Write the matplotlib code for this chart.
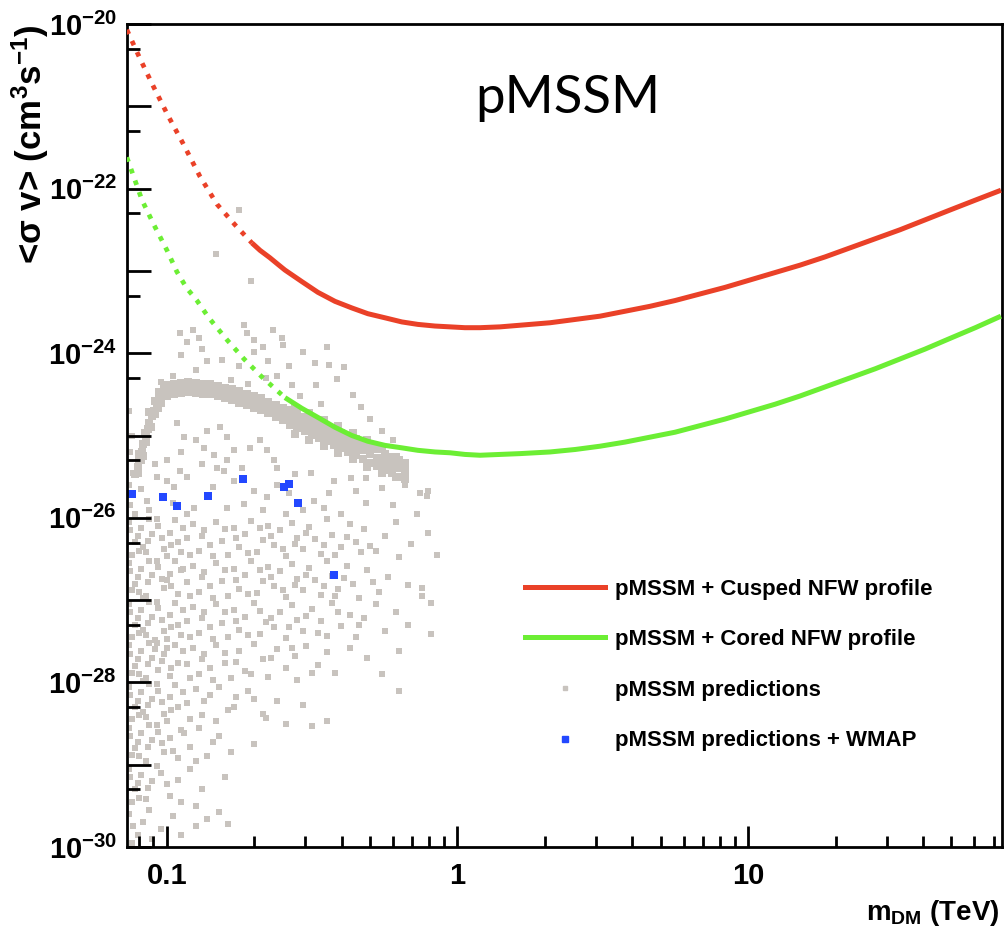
import numpy as np
import matplotlib
matplotlib.use("Agg")
import matplotlib.pyplot as plt
from matplotlib.lines import Line2D
from matplotlib.ticker import LogLocator, FixedLocator, FuncFormatter, NullFormatter

plt.rcParams.update({
    "font.family": "Liberation Sans",
    "font.weight": "bold",
    "mathtext.fontset": "custom",
    "mathtext.rm": "Liberation Sans:bold",
    "mathtext.it": "Liberation Sans:bold",
    "mathtext.bf": "Liberation Sans:bold",
})

RED = "#ea4128"
GREEN = "#6cee34"
GRAY = "#c8c3be"
BLUE = "#2348ff"

# all values as log10(m_DM / TeV), log10(<sigma v> / cm^3 s^-1)
cusped_lx = [-1.137, -1.092, -1.047, -0.996, -0.944, -0.886, -0.827, -0.765, -0.707,
             -0.679, -0.645, -0.614, -0.593, -0.535, -0.480, -0.421, -0.363, -0.308,
             -0.249, -0.191, -0.136, -0.077, -0.025, 0.026, 0.078, 0.147, 0.216,
             0.319, 0.405, 0.491, 0.577, 0.663, 0.749, 0.835, 0.921, 1.007, 1.093,
             1.179, 1.265, 1.351, 1.437, 1.523, 1.609, 1.695, 1.782, 1.870]
cusped_ly = [-20.07, -20.42, -20.75, -21.11, -21.45, -21.85, -22.19, -22.44, -22.66,
             -22.75, -22.84, -22.93, -22.99, -23.13, -23.26, -23.37, -23.45, -23.52,
             -23.57, -23.62, -23.65, -23.67, -23.68, -23.69, -23.69, -23.68, -23.66,
             -23.63, -23.59, -23.55, -23.49, -23.43, -23.36, -23.28, -23.20, -23.11,
             -23.02, -22.93, -22.83, -22.72, -22.61, -22.50, -22.38, -22.26, -22.14, -22.02]
cusped_solid_from = 8

cored_lx = [-1.137, -1.085, -1.044, -0.999, -0.965, -0.931, -0.896, -0.855, -0.792,
            -0.734, -0.672, -0.593, -0.535, -0.480, -0.421, -0.363, -0.308, -0.249,
            -0.191, -0.136, -0.077, -0.025, 0.026, 0.078, 0.147, 0.216, 0.319, 0.405,
            0.491, 0.577, 0.663, 0.749, 0.835, 0.921, 1.007, 1.093, 1.179, 1.265,
            1.351, 1.437, 1.523, 1.609, 1.695, 1.782, 1.870]
cored_ly = [-21.62, -22.14, -22.44, -22.75, -23.01, -23.21, -23.36, -23.57, -23.84,
            -24.07, -24.29, -24.54, -24.67, -24.78, -24.90, -25.00, -25.07, -25.12,
            -25.15, -25.18, -25.20, -25.21, -25.23, -25.24, -25.23, -25.22, -25.20,
            -25.17, -25.13, -25.08, -25.02, -24.96, -24.88, -24.80, -24.71, -24.62,
            -24.52, -24.41, -24.30, -24.19, -24.07, -23.95, -23.82, -23.69, -23.55]
cored_solid_from = 11

# dense band of pMSSM predictions
band_lx = [-1.000, -0.975, -0.950, -0.925, -0.900, -0.875, -0.850, -0.825, -0.800,
           -0.775, -0.750, -0.725, -0.700, -0.675, -0.650, -0.625, -0.600,
           -0.575, -0.550, -0.525, -0.500, -0.475, -0.450, -0.425, -0.400,
           -0.375, -0.350, -0.325, -0.300, -0.275, -0.250, -0.225, -0.200, -0.180]
band_hi = [-24.39, -24.37, -24.36, -24.35, -24.36, -24.37, -24.38, -24.40, -24.42,
           -24.43, -24.46, -24.49, -24.52, -24.55, -24.59, -24.63, -24.67,
           -24.69, -24.73, -24.77, -24.81, -24.85, -24.89, -24.93, -24.97,
           -25.00, -25.04, -25.08, -25.13, -25.17, -25.22, -25.26, -25.30, -25.33]
band_mid = [-24.45, -24.43, -24.42, -24.41, -24.42, -24.43, -24.44, -24.46, -24.48,
            -24.50, -24.53, -24.56, -24.59, -24.62, -24.66, -24.70, -24.74,
            -24.78, -24.82, -24.86, -24.90, -24.94, -24.98, -25.02, -25.06,
            -25.10, -25.14, -25.18, -25.23, -25.27, -25.32, -25.36, -25.40, -25.43]
band_lo = [-24.51, -24.49, -24.48, -24.47, -24.48, -24.49, -24.50, -24.52, -24.54,
           -24.57, -24.60, -24.63, -24.66, -24.69, -24.73, -24.77, -24.81,
           -24.87, -24.91, -24.95, -24.99, -25.03, -25.07, -25.11, -25.15,
           -25.20, -25.24, -25.28, -25.33, -25.37, -25.42, -25.46, -25.50, -25.53]
band_edge_lx = [-0.56, -0.51, -0.46, -0.41, -0.36, -0.31, -0.26, -0.21]
band_edge_hi = [-24.66, -24.73, -24.81, -24.89, -24.97, -25.06, -25.16, -25.26]
band_edge_lo = [-24.98, -25.05, -25.13, -25.21, -25.29, -25.38, -25.45, -25.51]
band_rise = [(-1.11, -25.47), (-1.10, -25.38), (-1.09, -25.30), (-1.085, -25.20), (-1.08, -25.10),
             (-1.07, -25.00), (-1.065, -24.92), (-1.06, -24.85), (-1.05, -24.76), (-1.045, -24.70),
             (-1.035, -24.62), (-1.025, -24.55), (-1.015, -24.50), (-1.10, -25.45), (-1.08, -25.25),
             (-1.07, -25.08), (-1.055, -24.90), (-1.04, -24.74), (-1.03, -24.66), (-1.02, -24.60),
             (-1.00, -24.52), (-1.095, -25.22), (-1.075, -24.97), (-1.06, -24.72), (-1.04, -24.58),
             (-1.025, -24.47), (-1.01, -24.42)]

# scattered predictions above the band
gray_above = [(-0.75, -22.26), (-0.83, -22.80), (-0.71, -23.12),
              (-0.955, -23.76), (-0.91, -23.72), (-0.89, -23.81), (-0.735, -23.66), (-0.725, -23.76),
              (-0.667, -23.93), (-0.633, -23.72), (-0.605, -23.82), (-0.93, -23.86), (-0.70, -23.84),
              (-0.95, -24.02), (-0.86, -24.10), (-0.81, -24.08), (-0.75, -24.15), (-0.70, -23.98),
              (-0.65, -24.10), (-0.62, -24.28), (-0.58, -24.16), (-0.53, -23.98), (-0.49, -24.12),
              (-0.44, -24.14), (-0.39, -24.17), (-0.415, -24.31), (-0.485, -24.39), (-0.36, -24.51),
              (-0.57, -24.39), (-0.66, -24.30), (-0.90, -24.20), (-0.98, -24.28), (-1.02, -24.35),
              (-0.78, -24.32), (-0.72, -24.38), (-0.54, -24.52), (-0.47, -24.62), (-0.33, -24.65),
              (-0.30, -24.80), (-0.26, -24.95), (-0.22, -25.05), (-0.60, -23.90), (-0.88, -23.95),
              (-0.45, -23.92)]

# scattered predictions just below the band
gray_below = [(-0.964, -24.85), (-0.94, -25.02), (-0.862, -24.94), (-0.817, -24.90), (-0.793, -25.02),
              (-0.872, -25.15), (-0.838, -25.24), (-0.769, -25.18), (-0.793, -25.30), (-0.715, -25.15),
              (-0.68, -25.06), (-0.656, -25.18), (-0.632, -25.30), (-0.954, -25.43), (-0.93, -25.51),
              (-0.827, -25.39), (-0.803, -25.43), (-0.70, -25.67), (-0.656, -25.75), (-0.622, -25.39),
              (-0.974, -25.63), (-1.067, -25.79), (-0.93, -25.95), (-0.793, -25.88), (-0.735, -25.83),
              (-0.667, -25.91), (-0.906, -25.88), (-1.033, -25.51), (-0.998, -25.30), (-1.10, -25.30),
              (-0.503, -25.45), (-0.424, -25.55), (-0.366, -25.52), (-0.315, -25.52), (-0.26, -25.64),
              (-0.127, -25.70), (-0.106, -25.73), (-0.315, -25.82), (-0.40, -25.95), (-0.492, -25.79),
              (-0.56, -25.47), (-0.10, -25.67), (-1.13, -24.70), (-1.12, -25.00), (-1.13, -25.60),
              (-1.125, -25.85), (-1.11, -25.95), (-0.58, -25.70), (-0.46, -25.88), (-0.84, -25.62),
              (-1.125, -25.20), (-1.115, -25.45), (-1.09, -25.65), (-1.06, -25.90), (-1.04, -25.35),
              (-1.00, -25.55), (-0.98, -25.82), (-0.95, -25.20), (-0.90, -25.05), (-0.88, -25.35),
              (-0.86, -25.75), (-0.77, -25.55), (-0.74, -25.40), (-0.62, -25.60), (-0.59, -25.95),
              (-0.53, -25.90), (-0.44, -25.70), (-0.35, -25.68), (-0.22, -25.85), (-0.18, -25.60),
              (-0.14, -25.95)]

# the wide cloud of predictions below 1e-26
gray_cloud = [
    # 1e-26 .. 3e-27
    (-1.13, -26.05), (-1.11, -26.30), (-1.09, -26.12), (-1.07, -26.42), (-1.05, -26.20), (-1.12, -26.45),
    (-1.06, -26.02), (-1.10, -26.22), (-1.08, -26.35), (-1.03, -26.10), (-1.01, -26.38), (-0.99, -26.18),
    (-0.97, -26.03), (-0.96, -26.30), (-1.00, -26.47), (-0.95, -26.42), (-0.93, -26.25), (-0.91, -26.08),
    (-0.89, -26.40), (-0.87, -26.15), (-0.85, -26.33), (-0.83, -26.05), (-0.81, -26.28), (-0.79, -26.45),
    (-0.77, -26.12), (-0.75, -26.36), (-0.73, -26.20), (-0.71, -26.04), (-0.69, -26.41), (-0.67, -26.27),
    (-0.65, -26.10), (-0.63, -26.33), (-0.61, -26.15), (-0.59, -26.46), (-0.57, -26.06), (-0.55, -26.24),
    (-0.53, -26.38), (-0.51, -26.11), (-0.49, -26.26), (-0.47, -26.44), (-0.45, -26.02), (-0.43, -26.21),
    (-0.40, -26.36), (-0.37, -26.08), (-0.35, -26.30), (-0.32, -26.14), (-0.30, -26.34), (-0.28, -26.40),
    (-0.25, -26.22), (-0.21, -26.05), (-0.16, -26.32), (-0.10, -26.18), (-0.07, -26.45), (-0.20, -26.48),
    (-1.125, -26.15), (-1.095, -26.40), (-1.065, -26.28), (-1.035, -26.02), (-1.015, -26.24), (-0.985, -26.33),
    (-0.945, -26.12), (-0.92, -26.45), (-0.88, -26.22), (-0.84, -26.47), (-0.80, -26.14), (-0.76, -26.25),
    (-0.72, -26.43), (-0.68, -26.13), (-0.64, -26.22), (-0.60, -26.38), (-0.56, -26.32), (-0.52, -26.19),
    (-0.46, -26.33), (-0.42, -26.45), (-0.38, -26.23), (-0.33, -26.42),
    # 3e-27 .. 1e-27
    (-1.13, -26.55), (-1.11, -26.80), (-1.09, -26.62), (-1.07, -26.95), (-1.05, -26.70), (-1.12, -26.88),
    (-1.06, -26.52), (-1.10, -26.72), (-1.08, -26.98), (-1.03, -26.60), (-1.01, -26.85), (-0.99, -26.68),
    (-0.97, -26.53), (-0.96, -26.92), (-1.00, -26.75), (-0.95, -26.64), (-0.93, -26.78), (-0.91, -26.58),
    (-0.89, -26.90), (-0.87, -26.66), (-0.85, -26.83), (-0.83, -26.55), (-0.81, -26.77), (-0.79, -26.95),
    (-0.77, -26.62), (-0.75, -26.86), (-0.73, -26.70), (-0.71, -26.53), (-0.69, -26.91), (-0.67, -26.77),
    (-0.65, -26.60), (-0.63, -26.83), (-0.61, -26.65), (-0.59, -26.96), (-0.57, -26.56), (-0.55, -26.74),
    (-0.53, -26.88), (-0.51, -26.61), (-0.49, -26.76), (-0.47, -26.94), (-0.45, -26.52), (-0.43, -26.71),
    (-0.41, -26.86), (-0.38, -26.58), (-0.36, -26.80), (-0.34, -26.97), (-0.31, -26.64), (-0.27, -26.90),
    (-0.24, -26.72), (-0.17, -26.82), (-0.12, -26.85),
    (-1.125, -26.65), (-1.095, -26.90), (-1.065, -26.78), (-1.035, -26.52), (-1.015, -26.74), (-0.985, -26.83),
    (-0.945, -26.62), (-0.92, -26.95), (-0.88, -26.72), (-0.84, -26.97), (-0.80, -26.64), (-0.76, -26.75),
    (-0.72, -26.93), (-0.68, -26.63), (-0.64, -26.72), (-0.60, -26.88), (-0.56, -26.82), (-0.52, -26.69),
    (-0.46, -26.83), (-0.42, -26.95), (-0.39, -26.73), (-0.29, -26.78),
    # 1e-27 .. 3e-28
    (-1.13, -27.05), (-1.11, -27.30), (-1.09, -27.12), (-1.07, -27.42), (-1.05, -27.20), (-1.12, -27.45),
    (-1.06, -27.02), (-1.10, -27.22), (-1.08, -27.36), (-1.04, -27.48), (-1.03, -27.10), (-1.01, -27.38),
    (-0.99, -27.18), (-0.97, -27.03), (-0.96, -27.30), (-1.00, -27.47), (-0.95, -27.42), (-0.93, -27.25),
    (-0.91, -27.08), (-0.89, -27.40), (-0.87, -27.15), (-0.85, -27.33), (-0.83, -27.05), (-0.81, -27.28),
    (-0.79, -27.45), (-0.77, -27.12), (-0.75, -27.36), (-0.73, -27.20), (-0.70, -27.04), (-0.68, -27.41),
    (-0.66, -27.27), (-0.63, -27.33), (-0.61, -27.15), (-0.59, -27.46), (-0.57, -27.06), (-0.55, -27.24),
    (-0.53, -27.38), (-0.50, -27.11), (-0.47, -27.26), (-0.45, -27.44), (-0.43, -27.03), (-0.40, -27.31),
    (-0.37, -27.18), (-0.35, -27.45), (-0.32, -27.22), (-0.28, -27.05), (-0.25, -27.38), (-0.21, -27.15),
    (-0.17, -27.30), (-0.09, -27.04), (-0.09, -27.41), (-0.12, -26.95),
    (-1.125, -27.15), (-1.095, -27.40), (-1.065, -27.28), (-1.035, -27.02), (-1.015, -27.24), (-0.985, -27.33),
    (-0.945, -27.12), (-0.92, -27.45), (-0.88, -27.22), (-0.84, -27.47), (-0.80, -27.14), (-0.76, -27.25),
    (-0.72, -27.43), (-0.68, -27.13), (-0.64, -27.22), (-0.58, -27.33), (-0.52, -27.19), (-0.48, -27.40),
    (-0.41, -27.14), (-0.34, -27.30),
    # 3e-28 .. 1e-28
    (-1.13, -27.55), (-1.11, -27.80), (-1.09, -27.62), (-1.07, -27.95), (-1.05, -27.70), (-1.12, -27.88),
    (-1.06, -27.52), (-1.10, -27.72), (-1.08, -27.98), (-1.04, -27.60), (-1.03, -27.85), (-1.01, -27.65),
    (-0.99, -27.92), (-0.97, -27.55), (-0.96, -27.76), (-1.00, -27.58), (-0.93, -27.78), (-0.91, -27.58),
    (-0.89, -27.90), (-0.87, -27.66), (-0.85, -27.83), (-0.83, -27.55), (-0.80, -27.77), (-0.78, -27.95),
    (-0.75, -27.62), (-0.73, -27.86), (-0.70, -27.53), (-0.67, -27.71), (-0.65, -27.94), (-0.62, -27.60),
    (-0.59, -27.82), (-0.56, -27.68), (-0.55, -27.97), (-0.52, -27.56), (-0.48, -27.79), (-0.45, -27.63),
    (-0.42, -27.88), (-0.37, -27.58), (-0.31, -27.70), (-0.26, -27.90), (-0.20, -27.62),
    (-1.125, -27.65), (-1.095, -27.90), (-1.065, -27.78), (-1.035, -27.52), (-1.015, -27.74), (-0.985, -27.83),
    (-0.945, -27.62), (-0.92, -27.95), (-0.88, -27.72), (-0.84, -27.97), (-0.80, -27.64), (-0.76, -27.75),
    (-0.71, -27.90), (-0.64, -27.70), (-0.57, -27.58), (-0.50, -27.88),
    # 1e-28 .. 3e-29
    (-1.13, -28.05), (-1.11, -28.30), (-1.09, -28.12), (-1.07, -28.42), (-1.05, -28.20), (-1.12, -28.45),
    (-1.06, -28.02), (-1.10, -28.22), (-1.08, -28.36), (-1.03, -28.10), (-1.01, -28.38), (-0.99, -28.18),
    (-0.97, -28.03), (-0.96, -28.30), (-1.00, -28.47), (-0.93, -28.25), (-0.90, -28.08), (-0.88, -28.40),
    (-0.85, -28.15), (-0.82, -28.05), (-0.79, -28.33), (-0.76, -28.18), (-0.72, -28.10), (-0.67, -28.38),
    (-0.62, -28.22), (-0.59, -28.50), (-0.53, -28.28), (-0.50, -28.53), (-0.45, -28.47), (-0.20, -28.10),
    (-1.125, -28.15), (-1.095, -28.40), (-1.065, -28.28), (-1.035, -28.02), (-1.015, -28.24), (-0.985, -28.33),
    (-0.945, -28.12), (-0.92, -28.45), (-0.87, -28.22), (-0.83, -28.47), (-0.77, -28.30), (-0.70, -28.20),
    # 3e-29 .. 1e-29
    (-1.13, -28.55), (-1.11, -28.80), (-1.09, -28.62), (-1.07, -28.95), (-1.05, -28.70), (-1.12, -28.88),
    (-1.06, -28.52), (-1.10, -28.72), (-1.03, -28.60), (-1.01, -28.85), (-0.99, -28.68), (-0.96, -28.92),
    (-0.95, -28.58), (-0.92, -28.78), (-0.89, -28.56), (-0.86, -28.90), (-0.82, -28.65), (-0.78, -28.85),
    (-0.70, -28.75), (-0.66, -28.43),
    (-1.125, -28.65), (-1.095, -28.90), (-1.065, -28.78), (-1.035, -28.52), (-1.015, -28.74), (-0.98, -28.83),
    (-0.94, -28.62), (-0.90, -28.95), (-0.84, -28.72),
    # 1e-29 .. 1e-30
    (-1.13, -29.05), (-1.11, -29.30), (-1.09, -29.12), (-1.07, -29.42), (-1.05, -29.20), (-1.12, -29.45),
    (-1.10, -29.22), (-1.02, -29.10), (-0.99, -29.38), (-0.96, -29.18), (-0.92, -29.05), (-0.88, -29.30),
    (-0.80, -29.15), (-1.13, -29.60), (-1.10, -29.85), (-1.08, -29.70), (-1.12, -29.95), (-1.06, -29.55),
    (-1.02, -29.78), (-0.98, -29.62), (-0.90, -29.75), (-0.82, -29.58), (-0.79, -29.72), (-0.86, -29.66),
    (-1.125, -29.15), (-1.095, -29.40), (-1.065, -29.28), (-1.035, -29.02), (-1.00, -29.24), (-0.95, -29.45),
    (-0.90, -29.50), (-1.115, -29.75), (-1.05, -29.90), (-0.95, -29.85),
]

# pMSSM + WMAP points
wmap_m = [0.0762, 0.0973, 0.1087, 0.1387, 0.1828, 0.254, 0.264, 0.284, 0.377]
wmap_sv = [1.95e-26, 1.78e-26, 1.41e-26, 1.82e-26, 3.0e-26, 2.4e-26, 2.6e-26, 1.5e-26, 2.0e-27]

legend_labels = ["pMSSM + Cusped NFW profile", "pMSSM + Cored NFW profile",
                 "pMSSM predictions", "pMSSM predictions + WMAP"]

# ---- assemble gray points
loose = gray_above + gray_below + gray_cloud
loose_m = 10.0 ** np.array([p[0] for p in loose])
loose_sv = 10.0 ** np.array([p[1] for p in loose])

b_lx = [p[0] for p in band_rise]
b_ly = [p[1] for p in band_rise]
for row in (band_hi, band_mid, band_lo):
    b_lx += band_lx
    b_ly += row
for row in (band_edge_hi, band_edge_lo):
    b_lx += band_edge_lx
    b_ly += row
band_m = 10.0 ** np.array(b_lx)
band_sv = 10.0 ** np.array(b_ly)

fig = plt.figure(figsize=(10.06, 9.36), dpi=100)
ax = fig.add_axes([126.7 / 1006, 1 - 847 / 936, (1001.5 - 126.7) / 1006, (847 - 24) / 936])
ax.set_xscale("log")
ax.set_yscale("log")

ax.scatter(loose_m, loose_sv, s=17, marker="s", color=GRAY, linewidths=0, zorder=1)
ax.scatter(band_m, band_sv, s=26, marker="s", color=GRAY, linewidths=0, zorder=1)
ax.scatter(wmap_m, wmap_sv, s=28, marker="s", color=BLUE, linewidths=0, zorder=2)

cm = 10.0 ** np.array(cusped_lx)
cs = 10.0 ** np.array(cusped_ly)
k = cusped_solid_from
ax.plot(cm[:k + 1], cs[:k + 1], color=RED, lw=3.4, ls=(0, (1, 1.6)), zorder=3)
ax.plot(cm[k:], cs[k:], color=RED, lw=3.6, zorder=3, solid_capstyle="butt")

gm = 10.0 ** np.array(cored_lx)
gs = 10.0 ** np.array(cored_ly)
k = cored_solid_from
ax.plot(gm[:k + 1], gs[:k + 1], color=GREEN, lw=3.4, ls=(0, (1, 1.6)), zorder=3)
ax.plot(gm[k:], gs[k:], color=GREEN, lw=3.6, zorder=3, solid_capstyle="butt")

ax.set_xlim(10 ** -1.1376, 10 ** 1.872)
ax.set_ylim(1e-30, 1e-20)

for s in ax.spines.values():
    s.set_linewidth(2.0)

ax.yaxis.set_major_locator(LogLocator(base=10, subs=(1.0,), numticks=20))
ax.yaxis.set_minor_locator(LogLocator(base=10, subs=(5.0,), numticks=20))
ax.yaxis.set_minor_formatter(NullFormatter())


def ylab(v, pos):
    e = int(round(np.log10(v)))
    return r"$10^{%d}$" % e if e % 2 == 0 else ""


ax.yaxis.set_major_formatter(FuncFormatter(ylab))
ax.xaxis.set_major_locator(FixedLocator([0.1, 1, 10]))
ax.xaxis.set_major_formatter(FuncFormatter(lambda v, p: {0.1: "0.1", 1: "1", 10: "10"}.get(round(v, 1), "")))
ax.xaxis.set_minor_locator(LogLocator(base=10, subs=np.arange(2, 10), numticks=20))
ax.xaxis.set_minor_formatter(NullFormatter())

ax.tick_params(axis="y", which="major", direction="in", length=17, width=2, pad=7, labelsize=21)
ax.tick_params(axis="y", which="minor", direction="in", length=9.5, width=2)
ax.tick_params(axis="x", which="major", direction="in", length=15, width=2, pad=11, labelsize=21)
ax.tick_params(axis="x", which="minor", direction="in", length=8, width=2)
ax.tick_params(top=False, right=False, which="both")

fig.text(30 / 1006, 1 - 24 / 936, "<σ v> (cm$^{3}$s$^{-1}$)", rotation=90, ha="center", va="top",
         fontsize=25, fontweight="bold")
fig.text(1000 / 1006, 1 - 920 / 936, r"m$_{DM}$ (TeV)", ha="right", va="baseline", fontsize=20,
         fontweight="bold")
fig.text(568 / 1006, 1 - 113 / 936, "pMSSM", ha="center", va="baseline", fontsize=38,
         fontfamily="Lato", fontweight="normal")

handles = [Line2D([], [], color=RED, lw=3.6),
           Line2D([], [], color=GREEN, lw=3.6),
           Line2D([], [], ls="none", marker="s", ms=3, color=GRAY),
           Line2D([], [], ls="none", marker="s", ms=5, color=BLUE)]
ax.legend(handles, legend_labels, loc="upper left", bbox_to_anchor=(0.455, 0.326), frameon=False,
          prop={"family": "Liberation Sans", "weight": "bold", "size": 16},
          handlelength=3.6, handletextpad=0.45, labelspacing=1.33, borderpad=0, borderaxespad=0)

fig.savefig("out.png", dpi=100)
